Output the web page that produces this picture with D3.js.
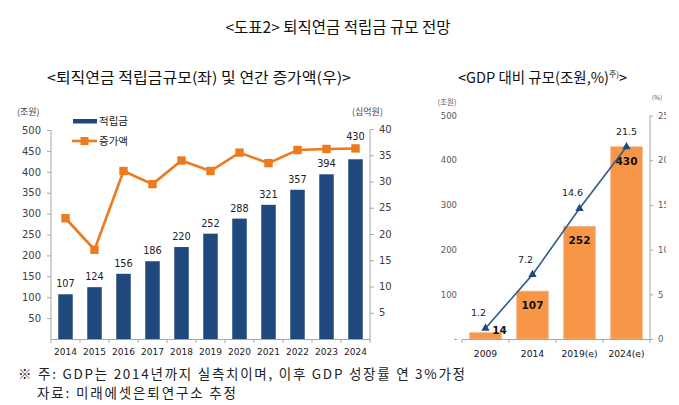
<!DOCTYPE html>
<html><head><meta charset="utf-8">
<script src="https://cdn.jsdelivr.net/npm/d3@7"></script>
<style>
html,body{margin:0;padding:0;background:#fff;}
svg{display:block;}
text{font-family:"Noto Sans CJK KR","DejaVu Sans",sans-serif;}
.num{font-family:"DejaVu Sans",sans-serif;}
</style></head>
<body>
<svg id="c" width="679" height="405"></svg>
<script>
// ---- data ----
const years = ["2014","2015","2016","2017","2018","2019","2020","2021","2022","2023","2024"];
const reserve = [107,124,156,186,220,252,288,321,357,394,430];          // 적립금 (조원)
const increase = [23,17,32,29.5,34,32,35.5,33.5,36,36.2,36.3];           // 증가액 (십억원)
const leftTicks = [50,100,150,200,250,300,350,400,450,500];
const rightTicks = [5,10,15,20,25,30,35,40];

const gdpCats = ["2009","2014","2019(e)","2024(e)"];
const gdpSize = [14,107,252,430];     // 조원
const gdpRatio = [1.2,7.2,14.6,21.5]; // %
const gdpLeftTicks = [0,100,200,300,400,500];
const gdpRightTicks = [0,5,10,15,20,25];

const svg = d3.select("#c");
const navy = "#1F497D", orange = "#EE7A1E", gridGrey = "#A6A6A6", lblGrey = "#404040";

// ---- titles ----
svg.append("text").attr("x",338).attr("y",33).attr("text-anchor","middle")
  .attr("font-size",15.5).attr("fill","#111").text("<도표2> 퇴직연금 적립금 규모 전망");
svg.append("text").attr("x",47).attr("y",83).attr("font-size",14.5).attr("fill","#111")
  .attr("textLength",304).attr("lengthAdjust","spacingAndGlyphs")
  .text("<퇴직연금 적립금규모(좌) 및 연간 증가액(우)>");
const st = svg.append("text").attr("x",458).attr("y",83).attr("font-size",14.5).attr("fill","#111");
st.append("tspan").text("<GDP 대비 규모(조원,%)");
st.append("tspan").attr("font-size",8).attr("dy",-6).text("주)");
st.append("tspan").attr("dy",6).text(">");

// ---- left chart ----
const L = {x0:51, x1:370, yTop:130, yBot:339};
const x = d3.scaleBand().domain(years).range([L.x0,L.x1]).paddingInner(0.5).paddingOuter(0.25);
const y = d3.scaleLinear().domain([0,500]).range([L.yBot,L.yTop]);
const y2 = d3.scaleLinear().domain([0,40]).range([L.yBot,L.yTop-1]);

const gl = svg.append("g");
gl.selectAll("rect.bar").data(reserve).join("rect").attr("class","bar")
  .attr("x",(d,i)=>x(years[i])).attr("width",x.bandwidth())
  .attr("y",d=>y(d)).attr("height",d=>y(0)-y(d)).attr("fill",navy);

// axes
const axL = gl.append("g").attr("transform",`translate(${L.x0},0)`)
  .call(d3.axisLeft(y).tickValues(leftTicks).tickSize(4).tickPadding(6));
const axR = gl.append("g").attr("transform",`translate(${L.x1},0)`)
  .call(d3.axisRight(y2).tickValues(rightTicks).tickSize(4).tickPadding(5));
const axB = gl.append("g").attr("transform",`translate(0,${L.yBot})`)
  .call(d3.axisBottom(x).tickSize(0).tickPadding(10));
[axL,axR].forEach(a=>{
  a.select(".domain").attr("stroke",gridGrey).attr("d",`M0,${L.yTop}V${L.yBot}`);
  a.selectAll(".tick line").attr("stroke",gridGrey);
  a.selectAll(".tick text").attr("class","num").attr("font-size",10).attr("fill",lblGrey);
});
axB.select(".domain").attr("stroke",gridGrey);
axB.selectAll(".tick text").attr("class","num").attr("font-size",9).attr("fill","#1a1a1a");
// category boundary ticks
gl.append("g").selectAll("line").data(d3.range(years.length+1)).join("line")
  .attr("x1",i=>L.x0+i*x.step()).attr("x2",i=>L.x0+i*x.step())
  .attr("y1",L.yBot).attr("y2",L.yBot+4).attr("stroke",gridGrey);

// bar labels (moved above the line marker when they would collide)
gl.selectAll("text.bl").data(reserve).join("text").attr("class","bl num")
  .attr("x",(d,i)=>x(years[i])+x.bandwidth()/2)
  .attr("y",(d,i)=>{
    const ly = y(d)-7, my = y2(increase[i]);
    return (ly-4 > my-12 && ly-4 < my+12) ? my-8 : ly;
  })
  .attr("text-anchor","middle").attr("font-size",9.8).attr("fill","#222").text(d=>d);

// line
const lx = (i)=>x(years[i])+x.bandwidth()/2;
gl.append("path").datum(increase)
  .attr("d",d3.line().x((d,i)=>lx(i)).y(d=>y2(d)))
  .attr("fill","none").attr("stroke",orange).attr("stroke-width",2.6);
gl.selectAll("rect.mk").data(increase).join("rect").attr("class","mk")
  .attr("x",(d,i)=>lx(i)-4.2).attr("y",d=>y2(d)-4.2).attr("width",8.4).attr("height",8.4)
  .attr("fill",orange);

// units
svg.append("text").attr("x",17).attr("y",115).attr("font-size",9).attr("fill",lblGrey).text("(조원)");
svg.append("text").attr("x",352).attr("y",115).attr("font-size",9).attr("fill",lblGrey).text("(십억원)");

// legend
svg.append("rect").attr("x",73).attr("y",119).attr("width",24).attr("height",4.5).attr("fill",navy);
svg.append("text").attr("x",99).attr("y",125).attr("font-size",10.5).attr("fill","#222").text("적립금");
svg.append("line").attr("x1",72).attr("x2",97).attr("y1",141).attr("y2",141).attr("stroke",orange).attr("stroke-width",2.6);
svg.append("rect").attr("x",80.5).attr("y",137).attr("width",8).attr("height",8).attr("fill",orange);
svg.append("text").attr("x",99).attr("y",145).attr("font-size",10.5).attr("fill","#222").text("증가액");

// ---- right chart ----
const R = {x0:462, x1:650, yTop:115.5, yBot:339};
svg.append("clipPath").attr("id","rclip").append("rect").attr("x",400).attr("y",85).attr("width",266).attr("height",290);
const gr = svg.append("g").attr("clip-path","url(#rclip)");
const xr = d3.scaleBand().domain(gdpCats).range([R.x0,R.x1]).paddingInner(0.33).paddingOuter(0.165);
const yr = d3.scaleLinear().domain([0,500]).range([R.yBot,R.yTop]);
const yr2 = d3.scaleLinear().domain([0,25]).range([R.yBot,R.yTop]);

gr.selectAll("rect.gb").data(gdpSize).join("rect").attr("class","gb")
  .attr("x",(d,i)=>xr(gdpCats[i])).attr("width",xr.bandwidth())
  .attr("y",d=>yr(d)).attr("height",d=>yr(0)-yr(d))
  .attr("fill","#F79646").attr("stroke","#F4B183").attr("stroke-width",0.8);

const axRL = gr.append("g").attr("transform",`translate(${R.x0},0)`)
  .call(d3.axisLeft(yr).tickValues(gdpLeftTicks).tickSize(0).tickPadding(5)
  .tickFormat(d=>d===0?"-":d));
axRL.select(".domain").remove();
axRL.selectAll(".tick text").attr("class","num").attr("font-size",8.5).attr("fill","#595959");
const axRR = gr.append("g").attr("transform",`translate(${R.x1},0)`)
  .call(d3.axisRight(yr2).tickValues(gdpRightTicks).tickSize(3).tickPadding(5));
axRR.select(".domain").attr("stroke",gridGrey).attr("d",`M0,${R.yTop}V${R.yBot}`);
axRR.selectAll(".tick line").attr("stroke",gridGrey);
axRR.selectAll(".tick text").attr("class","num").attr("font-size",8.5).attr("fill","#595959");
const axRB = gr.append("g").attr("transform",`translate(0,${R.yBot})`)
  .call(d3.axisBottom(xr).tickSize(0).tickPadding(11));
axRB.select(".domain").attr("stroke",gridGrey);
axRB.selectAll(".tick text").attr("class","num").attr("font-size",9.2).attr("fill","#111");
gr.append("g").selectAll("line").data(d3.range(gdpCats.length+1)).join("line")
  .attr("x1",i=>R.x0+i*xr.step()).attr("x2",i=>R.x0+i*xr.step())
  .attr("y1",R.yBot).attr("y2",R.yBot+4).attr("stroke",gridGrey);

// bar labels (bold)
gr.selectAll("text.gbl").data(gdpSize).join("text").attr("class","gbl num")
  .attr("x",(d,i)=>{const c=xr(gdpCats[i])+xr.bandwidth()/2; return yr(0)-yr(d)<20? c+14 : c;})
  .attr("y",d=> yr(0)-yr(d)<20 ? yr(0)-5 : yr(d)+18)
  .attr("text-anchor","middle").attr("font-size",10.5).attr("font-weight","bold").attr("fill","#111")
  .text(d=>d);

// ratio line
const rx = i=>xr(gdpCats[i])+xr.bandwidth()/2;
gr.append("path").datum(gdpRatio)
  .attr("d",d3.line().x((d,i)=>rx(i)).y(d=>yr2(d)))
  .attr("fill","none").attr("stroke","#2E5C8A").attr("stroke-width",1.6);
gr.selectAll("path.tri").data(gdpRatio).join("path").attr("class","tri")
  .attr("transform",(d,i)=>`translate(${rx(i)},${yr2(d)})`)
  .attr("d",d3.symbol(d3.symbolTriangle,30)).attr("fill","#1F497D");
gr.selectAll("text.rl").data(gdpRatio).join("text").attr("class","rl num")
  .attr("x",(d,i)=>rx(i)-(i===gdpRatio.length-1?0:7)).attr("y",d=>yr2(d)-12)
  .attr("text-anchor","middle").attr("font-size",9.5).attr("fill","#222").text(d=>d.toFixed(1));

svg.append("text").attr("x",447).attr("y",105).attr("text-anchor","middle").attr("font-size",7.5).attr("fill","#595959").text("(조원)");
svg.append("text").attr("x",657).attr("y",100).attr("text-anchor","middle").attr("font-size",6.5).attr("fill","#595959").text("(%)");

// ---- footnotes ----
svg.append("text").attr("x",18).attr("y",379).attr("font-size",13.5).attr("fill","#222")
  .attr("textLength",447).attr("lengthAdjust","spacing")
  .text("※ 주: GDP는 2014년까지 실측치이며, 이후 GDP 성장률 연 3%가정");
svg.append("text").attr("x",37).attr("y",398).attr("font-size",13.5).attr("fill","#222")
  .attr("textLength",199).attr("lengthAdjust","spacing")
  .text("자료: 미래에셋은퇴연구소 추정");
</script>
</body></html>
